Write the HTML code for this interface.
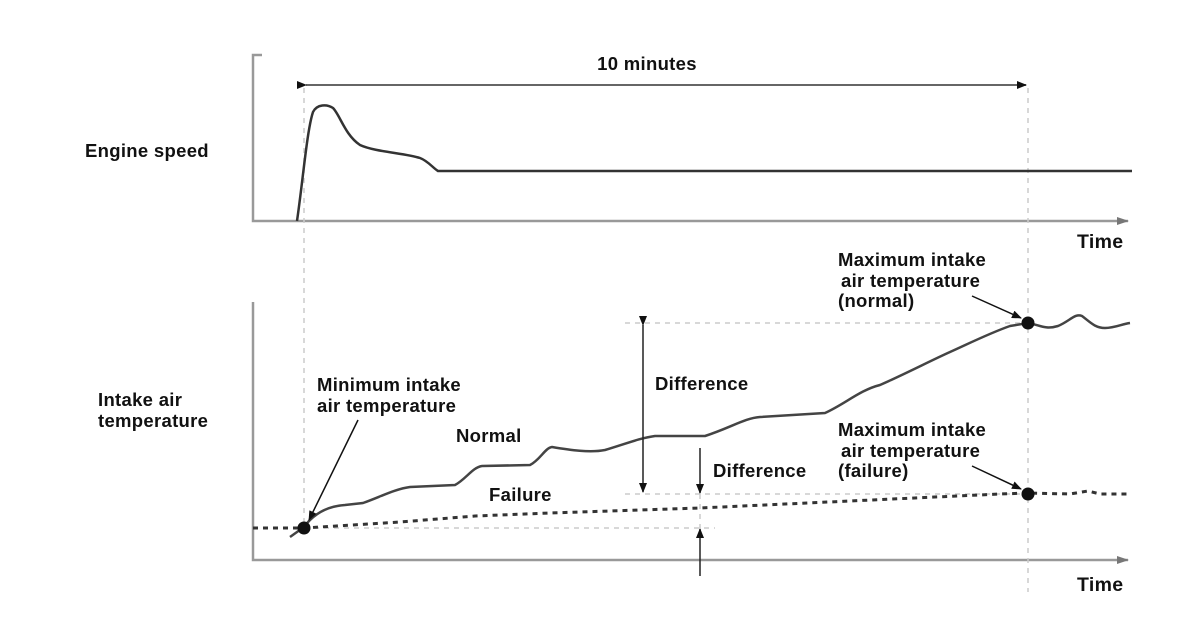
<!DOCTYPE html>
<html><head><meta charset="utf-8"><style>
html,body{margin:0;padding:0;background:#fff;}
svg text{font-family:"Liberation Sans",Arial,sans-serif;font-weight:bold;font-size:18.5px;letter-spacing:0.3px;fill:#111;}
</style></head><body>
<svg width="1200" height="628" viewBox="0 0 1200 628" xmlns="http://www.w3.org/2000/svg">
<defs>
<marker id="ah" markerWidth="10" markerHeight="8" refX="9" refY="4" orient="auto" markerUnits="userSpaceOnUse"><path d="M0,0 L10,4 L0,8 z" fill="#111"/></marker>
<marker id="ag" markerWidth="12" markerHeight="8" refX="11" refY="4" orient="auto" markerUnits="userSpaceOnUse"><path d="M0,0 L12,4 L0,8 z" fill="#777"/></marker>
</defs>
<path d="M262,55 H253 V221 H1128" fill="none" stroke="#999" stroke-width="2.5" marker-end="url(#ag)"/>
<path d="M253,302 V560 H1128" fill="none" stroke="#999" stroke-width="2.5" marker-end="url(#ag)"/>
<g stroke="#ccc" stroke-width="1.5" stroke-dasharray="5,5" fill="none">
<line x1="304" y1="88" x2="304" y2="528"/>
<line x1="1028" y1="88" x2="1028" y2="592"/>
<line x1="625" y1="323" x2="1028" y2="323"/>
<line x1="625" y1="494" x2="1028" y2="494"/>
<line x1="304" y1="528" x2="715" y2="528"/>
<line x1="700" y1="494" x2="700" y2="528"/>
</g>
<line x1="306" y1="85" x2="1026" y2="85" stroke="#666" stroke-width="2" marker-start="url(#ah)" marker-end="url(#ah)"/>
<text x="647" y="70" text-anchor="middle">10 minutes</text>
<path d="M297,221 C303,180 307,130 313,112 C317,104 327,104 333,108 C340,115 345,135 360,145 C375,152 405,153 420,158 C428,161 433,168 438,171 H1132" fill="none" stroke="#333" stroke-width="2.5"/>
<path d="M290,537 L304,527 C315,512 330,506 345,505 L363,503 C380,497 395,489 410,487 L455,485 C465,480 473,467 482,466 L530,465 C540,460 545,448 552,447 C570,450 590,453 605,450 C625,444 640,438 655,436 L705,436 C730,428 745,418 760,417 L825,413 C845,404 860,390 880,385 C905,374 930,361 950,352 C970,343 990,333 1010,326 L1028,323 C1040,325 1045,330 1058,326 C1070,321 1075,313 1082,316 C1090,322 1095,328 1105,328 C1115,328 1122,324 1130,323" fill="none" stroke="#444" stroke-width="2.5"/>
<path d="M253,528 L304,528 L400,522 L475,516 L550,513 L700,508 L1000,494 L1028,493 L1070,494 L1088,491 L1100,494 L1130,494" fill="none" stroke="#333" stroke-width="3" stroke-dasharray="5,5"/>
<line x1="643" y1="325" x2="643" y2="492" stroke="#222" stroke-width="1.5" marker-start="url(#ah)" marker-end="url(#ah)"/>
<line x1="700" y1="448" x2="700" y2="493" stroke="#222" stroke-width="1.5" marker-end="url(#ah)"/>
<line x1="700" y1="576" x2="700" y2="529" stroke="#222" stroke-width="1.5" marker-end="url(#ah)"/>
<line x1="358" y1="420" x2="309" y2="520" stroke="#111" stroke-width="1.5" marker-end="url(#ah)"/>
<line x1="972" y1="296" x2="1021" y2="318" stroke="#111" stroke-width="1.5" marker-end="url(#ah)"/>
<line x1="972" y1="466" x2="1021" y2="489" stroke="#111" stroke-width="1.5" marker-end="url(#ah)"/>
<circle cx="304" cy="528" r="6.5" fill="#111"/>
<circle cx="1028" cy="323" r="6.5" fill="#111"/>
<circle cx="1028" cy="494" r="6.5" fill="#111"/>
<text x="85" y="157">Engine speed</text>
<text x="1077" y="248" style="font-size:19.5px">Time</text>
<text x="1077" y="591" style="font-size:19.5px">Time</text>
<text x="98" y="406">Intake air</text>
<text x="98" y="427">temperature</text>
<text x="317" y="391">Minimum intake</text>
<text x="317" y="412">air temperature</text>
<text x="456" y="442">Normal</text>
<text x="489" y="501">Failure</text>
<text x="655" y="390">Difference</text>
<text x="713" y="477">Difference</text>
<text x="838" y="266">Maximum intake</text>
<text x="841" y="287">air temperature</text>
<text x="838" y="307">(normal)</text>
<text x="838" y="436">Maximum intake</text>
<text x="841" y="457">air temperature</text>
<text x="838" y="477">(failure)</text>
</svg>
</body></html>
